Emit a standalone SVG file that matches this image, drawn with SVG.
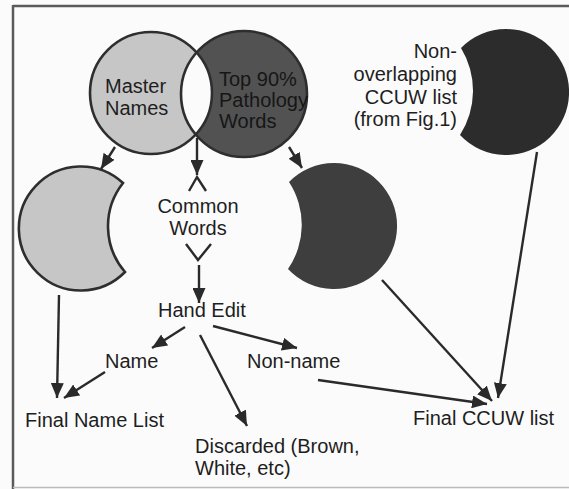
<svg xmlns="http://www.w3.org/2000/svg" width="569" height="489" viewBox="0 0 569 489">
<style>
text{font-family:"Liberation Sans",Arial,sans-serif;font-size:20px;fill:#1e1e1e}
.dark text{fill:#161616}
.con line{stroke:#2a2a2a;stroke-width:2.4;fill:none}
.chev{stroke:#2a2a2a;stroke-width:2.4;fill:none}
.outline{fill:none;stroke:#2e2e2e;stroke-width:2.6}
</style>
<defs>
<marker id="ah" markerUnits="userSpaceOnUse" markerWidth="16" markerHeight="13" refX="15" refY="6.5" orient="auto">
<path d="M0,0 L15,6.5 L0,13 Z" fill="#2a2a2a"/>
</marker>
</defs>
<rect x="0" y="0" width="569" height="489" fill="#fbfbfb"/>
<g id="frame">
<line x1="13" y1="6" x2="569" y2="6" stroke="#5a5a5a" stroke-width="2.5"/>
<line x1="13" y1="5" x2="13" y2="489" stroke="#5a5a5a" stroke-width="2.5"/>
<line x1="13" y1="487.5" x2="569" y2="487.5" stroke="#bbbbbb" stroke-width="1.5"/>
</g>
<g id="venn">
<circle cx="151" cy="93" r="61" fill="#c6c6c6"/>
<circle cx="244" cy="94" r="63" fill="#525252"/>
<path d="M196,52 A61,61 0 0 1 196,134 A63,63 0 0 1 196,52 Z" fill="#fbfbfb"/>
<circle class="outline" cx="151" cy="93" r="61"/>
<circle class="outline" cx="244" cy="94" r="63"/>
</g>
<g id="master-names">
<text x="105" y="93">Master</text>
<text x="105" y="115">Names</text>
</g>
<g id="pathology-words" class="dark">
<text x="219" y="86">Top 90%</text>
<text x="219" y="107">Pathology</text>
<text x="219" y="128">Words</text>
</g>
<g id="names-crescent">
<path d="M123,183 A62,62 0 1 0 125,272 A70,70 0 0 1 123,183 Z" fill="#c6c6c6" stroke="#2e2e2e" stroke-width="2.6"/>
</g>
<g id="pathology-crescent">
<path d="M289,182 A63,63 0 1 1 288,269 A78,78 0 0 0 289,182 Z" fill="#3e3e3e"/>
</g>
<g id="ccuw-crescent">
<path d="M461,48 A63,63 0 1 1 460,135 A82,82 0 0 0 461,48 Z" fill="#2c2c2c"/>
</g>
<g id="ccuw-label">
<text x="457" y="58" text-anchor="end">Non-</text>
<text x="457" y="81" text-anchor="end">overlapping</text>
<text x="457" y="104" text-anchor="end">CCUW list</text>
<text x="457" y="126" text-anchor="end">(from Fig.1)</text>
</g>
<g id="common-words">
<polyline class="chev" points="189,191 197,177 206,191"/>
<text x="198" y="213" text-anchor="middle">Common</text>
<text x="198" y="235" text-anchor="middle">Words</text>
<polyline class="chev" points="186,244 198,260 211,244"/>
</g>
<g id="hand-edit"><text x="158" y="317">Hand Edit</text></g>
<g id="name"><text x="105" y="368">Name</text></g>
<g id="non-name"><text x="247" y="368">Non-name</text></g>
<g id="final-name-list"><text x="25" y="427">Final Name List</text></g>
<g id="discarded">
<text x="195" y="453">Discarded (Brown,</text>
<text x="195" y="475">White, etc)</text>
</g>
<g id="final-ccuw-list"><text x="413" y="425">Final CCUW list</text></g>
<g id="connectors" class="con">
<line x1="115" y1="147" x2="101" y2="169" marker-end="url(#ah)"/>
<line x1="197" y1="138" x2="197" y2="175" marker-end="url(#ah)"/>
<line x1="289" y1="147" x2="302" y2="168" marker-end="url(#ah)"/>
<line x1="199" y1="265" x2="199" y2="303" marker-end="url(#ah)"/>
<line x1="185" y1="327" x2="152" y2="348" marker-end="url(#ah)"/>
<line x1="200" y1="335" x2="247" y2="426" marker-end="url(#ah)"/>
<line x1="213" y1="326" x2="297" y2="348" marker-end="url(#ah)"/>
<line x1="105" y1="372" x2="64" y2="398" marker-end="url(#ah)"/>
<line x1="59" y1="295" x2="57" y2="398" marker-end="url(#ah)"/>
<line x1="382" y1="280" x2="492" y2="401" marker-end="url(#ah)"/>
<line x1="537" y1="152" x2="498" y2="398" marker-end="url(#ah)"/>
<line x1="318" y1="380" x2="487" y2="404" marker-end="url(#ah)"/>
</g>
</svg>
